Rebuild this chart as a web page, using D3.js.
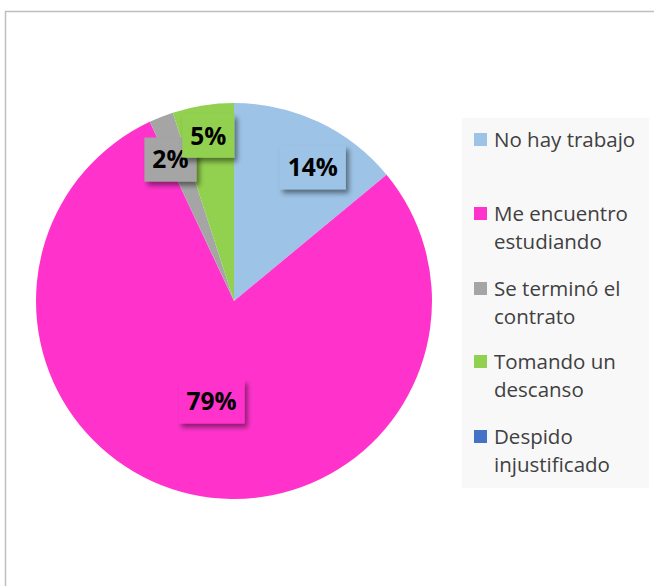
<!DOCTYPE html>
<html>
<head>
<meta charset="utf-8">
<script src="https://cdn.jsdelivr.net/npm/d3@7"></script>
<style>
  body { margin: 0; background: #fff; }
  svg { display: block; }
</style>
</head>
<body>
<div id="d3-chart"></div>
<script>
// Data
const categories = ['No hay trabajo', 'Me encuentro estudiando', 'Se terminó el contrato', 'Tomando un descanso', 'Despido injustificado'];
const values = [14, 79, 2, 5, 0];
const colors = ['#9dc3e6', '#ff33cc', '#a5a5a5', '#92d050', '#4472c4'];
const legendLines = [['No hay trabajo'], ['Me encuentro', 'estudiando'], ['Se terminó el', 'contrato'], ['Tomando un', 'descanso'], ['Despido', 'injustificado']];

// label placement: radius fraction and pixel nudge for each slice
const labelRadius = [0.78, 0.52, 0.79, 0.83, 0.8];
const labelNudge = [[13, 6], [0, 0], [-6, 4], [0, -3], [0, 0]];

const width = 654, height = 586;
const cx = 234, cy = 301, radius = 198;

const svg = d3.select('#d3-chart').append('svg')
    .attr('width', width)
    .attr('height', height);

// drop shadow for the data labels
const defs = svg.append('defs');
const filter = defs.append('filter')
    .attr('id', 'shadow')
    .attr('x', '-30%').attr('y', '-30%')
    .attr('width', '160%').attr('height', '170%');
filter.append('feDropShadow')
    .attr('dx', 3).attr('dy', 4)
    .attr('stdDeviation', 2.5)
    .attr('flood-color', '#000')
    .attr('flood-opacity', 0.45);

// chart frame (only top and left visible)
svg.append('path')
    .attr('d', 'M5.5,' + (height + 5) + 'V11.5H' + (width + 5))
    .attr('fill', 'none')
    .attr('stroke', '#bfbfbf')
    .attr('stroke-width', 1.5);

const pie = d3.pie().sort(null).value(d => d.value);
const data = categories.map((c, i) => ({ name: c, value: values[i], color: colors[i], idx: i }));
const arcs = pie(data);
const total = d3.sum(values);
const fmt = d3.format('.0%');

const arc = d3.arc().innerRadius(0).outerRadius(radius);

const g = svg.append('g')
    .attr('transform', 'translate(' + cx + ',' + cy + ')');

g.selectAll('.slice')
    .data(arcs.filter(d => d.data.value > 0))
    .enter().append('path')
    .attr('class', 'slice')
    .attr('d', arc)
    .attr('fill', d => d.data.color)
    .attr('stroke', 'none');

// Labels
const labels = g.selectAll('.label')
    .data(arcs.filter(d => d.data.value > 0))
    .enter().append('g')
    .attr('class', 'label')
    .attr('transform', d => {
        const r = radius * labelRadius[d.data.idx];
        const c = d3.arc().innerRadius(r).outerRadius(r).centroid(d);
        const n = labelNudge[d.data.idx];
        return 'translate(' + (c[0] + n[0]) + ',' + (c[1] + n[1]) + ')';
    });

labels.each(function(d) {
    const sel = d3.select(this);
    const txt = fmt(d.data.value / total);
    const t = sel.append('text')
        .attr('text-anchor', 'middle')
        .attr('dy', '0.36em')
        .style('font-family', '"Open Sans", "Noto Sans", sans-serif')
        .style('font-weight', 'bold')
        .style('font-size', '24.5px')
        .attr('fill', '#000')
        .text(txt);
    const bb = t.node().getBBox();
    const padX = 8;
    sel.insert('rect', 'text')
        .attr('x', bb.x - padX)
        .attr('y', -22)
        .attr('width', bb.width + padX * 2)
        .attr('height', 44)
        .attr('fill', d.data.color)
        .attr('filter', 'url(#shadow)');
});

// Legend
const legend = svg.append('g').attr('class', 'legend');
legend.append('rect')
    .attr('x', 462).attr('y', 118)
    .attr('width', 187).attr('height', 370)
    .attr('fill', '#f8f8f8');

const itemY = [140, 214, 289, 362, 437];
const lineH = 27.5;
const items = legend.selectAll('.item')
    .data(data)
    .enter().append('g')
    .attr('class', 'item')
    .attr('transform', (d, i) => 'translate(474,' + itemY[i] + ')');

items.append('rect')
    .attr('x', 0).attr('y', -7)
    .attr('width', 13).attr('height', 13)
    .attr('fill', d => d.color);

items.append('text')
    .attr('x', 20)
    .style('font-family', '"Open Sans", "Noto Sans", sans-serif')
    .style('font-size', '20.5px')
    .attr('fill', '#404040')
    .selectAll('tspan')
    .data((d, i) => legendLines[i])
    .enter().append('tspan')
    .attr('x', 20)
    .attr('y', (d, j) => j * lineH)
    .attr('dy', '0.35em')
    .text(d => d);
</script>
</body>
</html>
